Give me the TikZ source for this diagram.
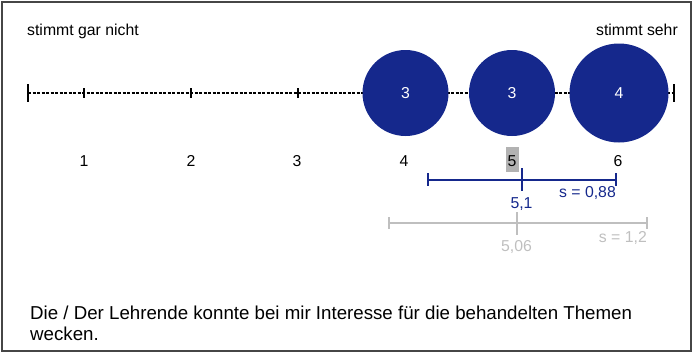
\documentclass[tikz,border=0pt]{standalone}
\usepackage{fontspec}
\setmainfont{Liberation Sans}
\definecolor{navy}{RGB}{21,40,140}
\definecolor{lgray}{RGB}{191,191,191}
\definecolor{framegray}{RGB}{70,70,70}
\begin{document}
\begin{tikzpicture}[x=1pt,y=-1pt,
  lbl/.style={inner sep=0pt,font=\fontsize{15.8}{18}\selectfont},
  bubble/.style={circle,fill=navy,draw=none,text=white,inner sep=0pt,font=\fontsize{15.8}{18}\selectfont},
  axisline/.style={line width=1.3pt,dash pattern=on 3pt off 1.5pt},
  tick/.style={line width=1.8pt},
  navybar/.style={navy,line width=2pt},
  graybar/.style={lgray,line width=2pt}]
\useasboundingbox (0,0) rectangle (693,354);
\draw[framegray,line width=1.3pt] (2,2) rectangle (691,351);
% top labels
\node[lbl,anchor=base west] (lo) at (27,35) {stimmt gar nicht};
\node[lbl,anchor=base east] (hi) at (678,35) {stimmt sehr};
% axis
\coordinate (a0) at (28,93);
\coordinate (a7) at (674,93);
\draw[axisline] (a0) -- (a7);
\draw[tick] (28,84) -- (28,102);
\draw[tick] (674,84) -- (674,102);
\foreach \x in {84,191,298}{\draw[tick] (\x,88) -- (\x,98);}
% bubbles
\node[bubble,minimum size=86pt] (b4) at (405.5,93) {3};
\node[bubble,minimum size=86pt] (b5) at (512,93) {3};
\node[bubble,minimum size=99pt] (b6) at (619,93) {4};
% scale numbers
\fill[lgray!80!gray] (506,147) rectangle (519,172);
\foreach \x/\t in {84/1,191/2,297/3,404/4,512/5,618/6}{\node[lbl,anchor=base] (n\t) at (\x,166) {\t};}
% navy bar
\coordinate (nl) at (428,180);
\coordinate (nr) at (616,180);
\coordinate (nm) at (521.5,180);
\draw[navybar] (nl) -- (nr);
\draw[navybar] (428,173) -- (428,186);
\draw[navybar] (616,173) -- (616,186);
\draw[navybar] (521.5,168) -- (521.5,191);
\node[lbl,anchor=base,text=navy] (m1) at (521.5,208) {5,1};
\node[lbl,anchor=base east,text=navy] (s1) at (616,197) {s = 0,88};
% gray bar
\coordinate (gl) at (389,223);
\coordinate (gr) at (647,223);
\coordinate (gm) at (516.5,223);
\draw[graybar] (gl) -- (gr);
\draw[graybar] (389,217) -- (389,229);
\draw[graybar] (647,217) -- (647,229);
\draw[graybar] (516.5,212) -- (516.5,235);
\node[lbl,anchor=base,text=lgray] (m2) at (516.5,251) {5,06};
\node[lbl,anchor=base east,text=lgray] (s2) at (647,242) {s = 1,2};
% question
\node[anchor=base west,inner sep=0pt,font=\fontsize{18.7}{21}\selectfont,align=left] (q) at (30,340) {Die / Der Lehrende konnte bei mir Interesse für die behandelten Themen\\wecken.};
\end{tikzpicture}
\end{document}
